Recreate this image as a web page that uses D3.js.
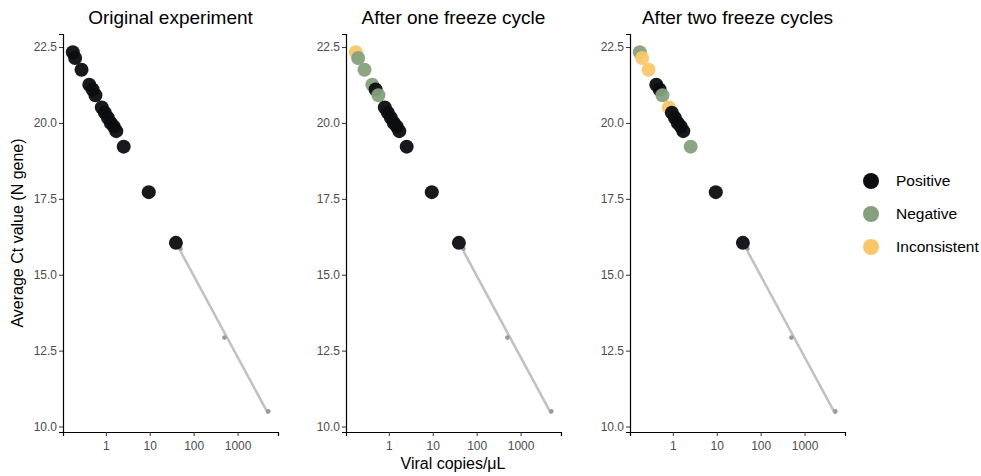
<!DOCTYPE html>
<html>
<head>
<meta charset="utf-8">
<script src="https://cdn.jsdelivr.net/npm/d3@7"></script>
<style>
  body { margin: 0; background: #fff; }
  svg { font-family: "Liberation Sans", Arial, sans-serif; }
</style>
</head>
<body>
<div id="chart"></div>
<script>
// samples (same dilution series in all three panels)
var copies = [0.177, 0.2, 0.28, 0.42, 0.5, 0.58, 0.81, 0.95, 1.11, 1.3, 1.52, 1.73, 2.55, 9.5, 39.4];
var ctValues = [22.33, 22.14, 21.75, 21.26, 21.1, 20.91, 20.51, 20.34, 20.17, 20.0, 19.88, 19.73, 19.22, 17.72, 16.05];

// result per sample for each experiment
var originalResult = ["Positive", "Positive", "Positive", "Positive", "Positive", "Positive", "Positive", "Positive",
    "Positive", "Positive", "Positive", "Positive", "Positive", "Positive", "Positive"];
var oneFreezeResult = ["Inconsistent", "Negative", "Negative", "Negative", "Positive", "Negative", "Positive", "Positive",
    "Positive", "Positive", "Positive", "Positive", "Positive", "Positive", "Positive"];
var twoFreezeResult = ["Negative", "Inconsistent", "Inconsistent", "Positive", "Positive", "Negative", "Inconsistent", "Positive",
    "Positive", "Positive", "Positive", "Positive", "Negative", "Positive", "Positive"];

// standard curve
var stdCopies = [50, 500, 5000];
var stdCt = [15.86, 12.93, 10.5];

var panelTitles = ["Original experiment", "After one freeze cycle", "After two freeze cycles"];
var categories = ["Positive", "Negative", "Inconsistent"];
var xTicks = [1, 10, 100, 1000];
var yTicks = [10, 12.5, 15, 17.5, 20, 22.5];

const width = 981, height = 476;
const panelLeft = [63, 346, 630], panelWidth = 215,
    plotTop = 34, plotBottom = 432;

const color = d3.scaleOrdinal()
    .domain(categories)
    .range(["#0c0d11", "#86a07d", "#f9c76a"]);

const svg = d3.select("#chart")
    .append("svg")
        .attr("width", width)
        .attr("height", height);

const yScale = d3.scaleLinear()
    .domain([9.82, 22.93])
    .range([plotBottom, plotTop]);

// least squares line for the standards (log scale)
var lx = stdCopies.map(d => Math.log10(d));
var mx = d3.mean(lx), my = d3.mean(stdCt);
var slope = d3.sum(lx.map((d, i) => (d - mx) * (stdCt[i] - my))) / d3.sum(lx.map(d => (d - mx) * (d - mx)));
var fitLine = [stdCopies[0], stdCopies[stdCopies.length - 1]].map(c => ({x: c, y: my + slope * (Math.log10(c) - mx)}));

var results = [originalResult, oneFreezeResult, twoFreezeResult];

results.forEach(function(res, p) {
    const x0 = panelLeft[p];
    const xScale = d3.scaleLog()
        .domain([Math.pow(10, -0.975), Math.pow(10, 3.92)])
        .range([x0, x0 + panelWidth]);

    const g = svg.append("g");

    // title
    g.append("text")
        .attr("x", x0 + panelWidth / 2)
        .attr("y", 24)
        .attr("text-anchor", "middle")
        .style("font-size", "19px")
        .style("fill", "#000")
        .text(panelTitles[p]);

    // axes
    const xAxis = g.append("g")
        .attr("transform", `translate(0, ${plotBottom})`)
        .call(d3.axisBottom(xScale).tickValues(xTicks).tickFormat(d3.format("d")).tickSizeOuter(0).tickSize(4));
    const yAxis = g.append("g")
        .attr("transform", `translate(${x0}, 0)`)
        .call(d3.axisLeft(yScale).tickValues(yTicks).tickFormat(d3.format(".1f")).tickSizeOuter(0).tickSize(4));
    [xAxis, yAxis].forEach(a => {
        a.select(".domain").attr("stroke", "#000").attr("stroke-width", 1.2);
        a.selectAll(".tick line").attr("stroke", "#333").attr("stroke-width", 1);
        a.selectAll(".tick text")
            .style("font-size", "12px")
            .style("fill", "#4d4d4d")
            .style("font-family", "Liberation Sans, Arial, sans-serif");
    });
    xAxis.selectAll(".tick text").attr("y", 7).attr("dy", "0.95em");
    yAxis.selectAll(".tick text").attr("x", -6);

    // standard curve
    g.append("line")
        .attr("x1", xScale(fitLine[0].x))
        .attr("y1", yScale(fitLine[0].y))
        .attr("x2", xScale(fitLine[1].x))
        .attr("y2", yScale(fitLine[1].y))
        .attr("stroke", "#c2c2c2")
        .attr("stroke-width", 2.6);
    g.selectAll(".std")
        .data(stdCopies)
        .enter()
        .append("circle")
            .attr("class", "std")
            .attr("cx", d => xScale(d))
            .attr("cy", (d, i) => yScale(stdCt[i]))
            .attr("r", 2.3)
            .style("fill", "#9a9a9a");

    // samples
    g.selectAll(".sample")
        .data(copies)
        .enter()
        .append("circle")
            .attr("class", "sample")
            .attr("cx", d => xScale(d))
            .attr("cy", (d, i) => yScale(ctValues[i]))
            .attr("r", 7)
            .style("opacity", 0.95)
            .style("fill", (d, i) => color(res[i]));
});

// axis titles
svg.append("text")
    .attr("transform", "translate(23, 233) rotate(-90)")
    .attr("text-anchor", "middle")
    .style("font-size", "16px")
    .text("Average Ct value (N gene)");

svg.append("text")
    .attr("x", 453)
    .attr("y", 469)
    .attr("text-anchor", "middle")
    .style("font-size", "16px")
    .text("Viral copies/\u03bcL");

// legend
const legend = svg.append("g").attr("transform", "translate(871, 181)");
categories.forEach(function(c, i) {
    legend.append("circle")
        .attr("cx", 0)
        .attr("cy", i * 33)
        .attr("r", 8)
        .style("fill", color(c));
    legend.append("text")
        .attr("x", 25)
        .attr("y", i * 33)
        .attr("dy", "0.35em")
        .style("font-size", "15.5px")
        .text(c);
});
</script>
</body>
</html>
